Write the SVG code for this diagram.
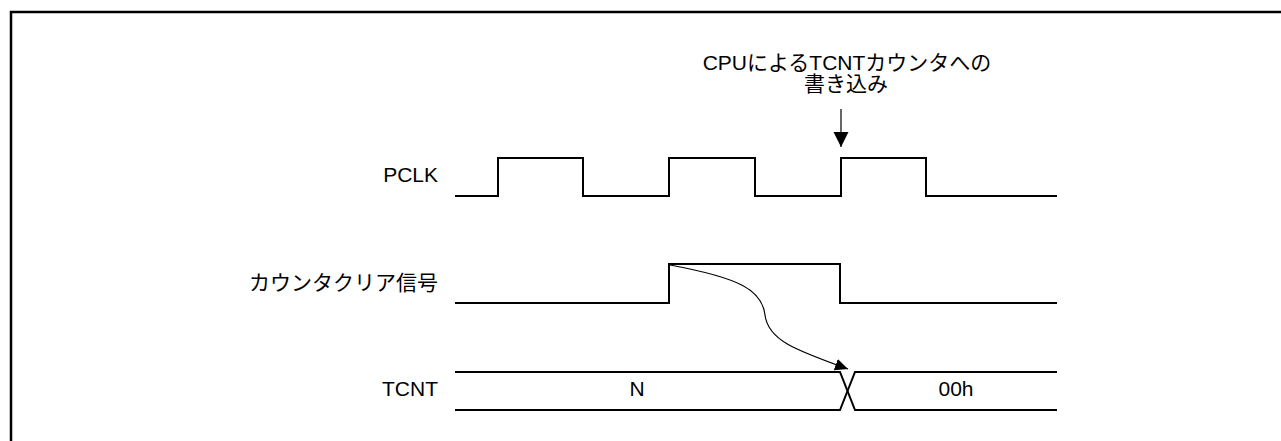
<svg xmlns="http://www.w3.org/2000/svg" width="1281" height="441" viewBox="0 0 1281 441">
  <style>
    .lbl { font-family: "Liberation Sans", Arial, "Noto Sans CJK JP", sans-serif; font-size: 21px; fill: #000; }
    .sig { fill: none; stroke: #000; stroke-width: 2; stroke-linejoin: miter; }
    .thin { fill: none; stroke: #000; stroke-width: 1.2; }
  </style>
  <defs>
    <marker id="bigArrow" markerUnits="userSpaceOnUse" markerWidth="16" markerHeight="16" refX="15" refY="7.5" orient="auto">
      <path d="M0,0 L15,7.5 L0,15 z" fill="#000"/>
    </marker>
    <marker id="smallArrow" markerUnits="userSpaceOnUse" markerWidth="14" markerHeight="12" refX="13" refY="6" orient="auto">
      <path d="M0,0 L13,6 L0,12 z" fill="#000"/>
    </marker>
  </defs>
  <rect width="1281" height="441" fill="#fff"/>
  <path d="M11,441 L11,12 L1281,12" fill="none" stroke="#000" stroke-width="2.5"/>

  <g id="note">
    <text class="lbl" x="847" y="70" text-anchor="middle">CPUによるTCNTカウンタへの</text>
    <text class="lbl" x="846" y="91" text-anchor="middle">書き込み</text>
  </g>

  <g id="pclk">
    <text class="lbl" x="438" y="182" text-anchor="end">PCLK</text>
    <path class="sig" d="M455,196 L498,196 L498,158 L583,158 L583,196 L669,196 L669,158 L755,158 L755,196 L841,196 L841,158 L926,158 L926,196 L1057,196"/>
  </g>

  <g id="clear">
    <text class="lbl" x="438" y="290" text-anchor="end">カウンタクリア信号</text>
    <path class="sig" d="M455,303 L669,303 L669,264 L840,264 L840,303 L1057,303"/>
  </g>

  <g id="tcnt">
    <text class="lbl" x="438" y="396" text-anchor="end">TCNT</text>
    <path class="sig" d="M455,372 L840,372 L855,410 L1057,410"/>
    <path class="sig" d="M455,410 L840,410 L855,372 L1057,372"/>
    <text class="lbl" x="637" y="396" text-anchor="middle">N</text>
    <text class="lbl" x="956" y="396" text-anchor="middle">00h</text>
  </g>

  <g id="connectors">
    <line class="thin" x1="841" y1="109" x2="841" y2="147" stroke-width="1.5" marker-end="url(#bigArrow)"/>
    <path class="thin" d="M670,265 C740,278 762,290 765,315 C768,340 795,350 848,369" marker-end="url(#smallArrow)"/>
  </g>
</svg>
